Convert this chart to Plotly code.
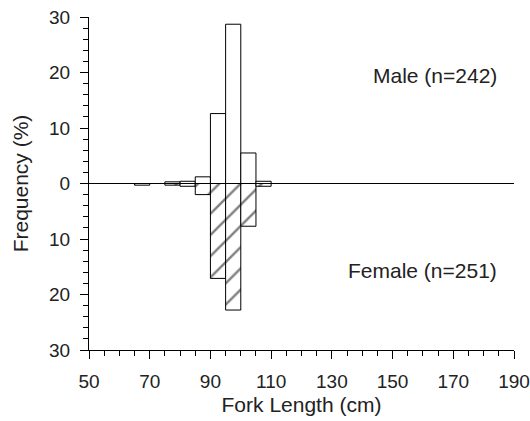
import plotly.graph_objects as go

# Fork-length bins (cm) and percentage frequency by sex
bin_centers = [67.5, 77.5, 82.5, 87.5, 92.5, 97.5, 102.5, 107.5]
male_pct = [0.0, 0.3, 0.4, 1.2, 12.6, 28.7, 5.5, 0.4]
female_pct = [0.3, 0.3, 0.5, 2.0, 17.1, 22.8, 7.7, 0.5]
bin_width = 5

y_tickvals = [-30, -20, -10, 0, 10, 20, 30]
y_ticktext = ["30", "20", "10", "0", "10", "20", "30"]
x_tickvals = [50, 70, 90, 110, 130, 150, 170, 190]

FONT = "Liberation Sans, Arial, sans-serif"
TXT = "#222"

fig = go.Figure()

# Males above the zero line (open bars)
fig.add_trace(go.Bar(
    x=bin_centers, y=male_pct, width=bin_width, base=0,
    marker=dict(color="white", line=dict(color="black", width=1)),
    name="Male", showlegend=False,
))

# Females below the zero line (hatched bars)
fig.add_trace(go.Bar(
    x=bin_centers, y=[-v for v in female_pct], width=bin_width, base=0,
    marker=dict(
        color="white",
        line=dict(color="black", width=1),
        pattern=dict(shape="/", fgcolor="black", bgcolor="white", size=15, solidity=0.16),
    ),
    name="Female", showlegend=False,
))

# Zero reference line drawn over the bars
fig.add_shape(type="line", xref="paper", x0=0, x1=1, yref="y", y0=0, y1=0,
              line=dict(color="black", width=1), layer="above")

fig.add_annotation(x=185, y=19.5, text="Male (n=242)", showarrow=False,
                   xanchor="right", yanchor="middle",
                   font=dict(family=FONT, size=21, color=TXT))
fig.add_annotation(x=185, y=-15.7, text="Female (n=251)", showarrow=False,
                   xanchor="right", yanchor="middle",
                   font=dict(family=FONT, size=21, color=TXT))

fig.update_layout(
    width=530, height=421,
    margin=dict(l=89, r=16, t=17, b=71, autoexpand=False),
    plot_bgcolor="white", paper_bgcolor="white",
    barmode="overlay",
    font=dict(family=FONT, size=19, color=TXT),
)

fig.update_xaxes(
    range=[50, 190], tickvals=x_tickvals, automargin=False,
    showgrid=False, zeroline=False,
    showline=True, linecolor="black", linewidth=1,
    ticks="outside", ticklen=8, tickcolor="black", tickwidth=1,
    ticklabelstandoff=6,
    minor=dict(dtick=5, tick0=50, ticks="outside", ticklen=5, tickcolor="black"),
    tickfont=dict(family=FONT, size=19, color=TXT),
    title=dict(text="Fork Length (cm)", font=dict(family=FONT, size=21, color=TXT), standoff=6),
)

fig.update_yaxes(
    range=[-30, 30], tickvals=y_tickvals, ticktext=y_ticktext, automargin=False,
    showgrid=False, zeroline=False,
    showline=True, linecolor="black", linewidth=1,
    ticks="outside", ticklen=8, tickcolor="black", tickwidth=1,
    ticklabelstandoff=6,
    minor=dict(dtick=2, tick0=0, ticks="outside", ticklen=5, tickcolor="black"),
    tickfont=dict(family=FONT, size=19, color=TXT),
    title=dict(text="Frequency (%)", font=dict(family=FONT, size=21, color=TXT), standoff=14),
)

fig.write_html("out.html")
